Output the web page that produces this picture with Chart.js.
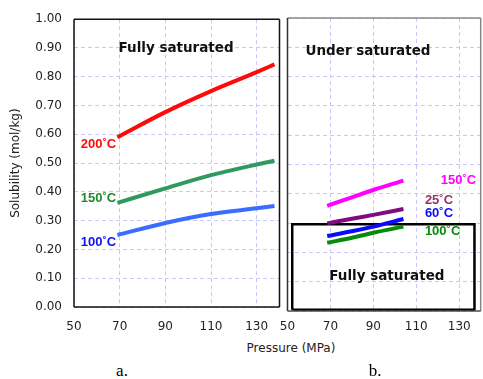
<!DOCTYPE html>
<html>
<head>
<meta charset="utf-8">
<script src="https://cdn.jsdelivr.net/npm/chart.js@4/dist/chart.umd.min.js"></script>
<style>
  body { margin: 0; background: #fff; width: 483px; height: 379px; position: relative; overflow: hidden; }
  canvas { position: absolute; top: 0; }
  #chartA { left: 0; }
  #chartB { left: 270px; }
  .txt { position: absolute; white-space: nowrap; transform: translate(-50%, -50%); }
  #xTitle { left: 291px; top: 348px; font: 12px "DejaVu Sans"; color: #222; }
  .cap { top: 371px; font: 17px "Liberation Serif"; color: #000; }
</style>
</head>
<body>
<canvas id="chartA" width="285" height="340"></canvas>
<canvas id="chartB" width="213" height="340"></canvas>
<div id="xTitle" class="txt">Pressure (MPa)</div>
<div class="txt cap" style="left:122px">a.</div>
<div class="txt cap" style="left:375px">b.</div>
<script>
// axes, shared by both panels
const xTicks = [50, 70, 90, 110, 130];
const xMin = 50, xMax = 140;
const yMin = 0, yMax = 1;

// a. fully saturated, pressure (MPa) vs solubility (mol/kg)
const pressureA = [69, 90, 110, 130, 137.8];
const sol200A = [0.59, 0.677, 0.75, 0.816, 0.843];
const sol150A = [0.362, 0.412, 0.458, 0.495, 0.508];
const sol100A = [0.25, 0.292, 0.323, 0.343, 0.351];

// b. under saturated
const pressureB = [68.5, 80, 90, 104];
const sol150B = [0.359, 0.388, 0.413, 0.445];
const sol25B = [0.299, 0.315, 0.328, 0.348];
const sol60B = [0.256, 0.272, 0.288, 0.314];
const sol100B = [0.233, 0.25, 0.267, 0.288];

// fully saturated region drawn in panel b
const boxX = [52.2, 52.2, 137.1, 137.1, 52.2];
const boxY = [0.004, 0.296, 0.296, 0.004, 0.004];

const tempLabelsA = ['200˚C', '150˚C', '100˚C'];
const tempLabelsB = ['150˚C', '25˚C', '60˚C', '100˚C'];

const gridColor = '#c8c8f8';
const tickColor = '#222';
const tickFont = { family: 'DejaVu Sans', size: 12 };
const tempFont = 'bold 13px "Liberation Sans"';
const noteFont = 'bold 13.5px "DejaVu Sans"';

function series(xs, ys, color, width) {
    return {
        data: xs.map((x, i) => ({ x: x, y: ys[i] })),
        showLine: true,
        borderColor: color,
        borderWidth: width,
        pointRadius: 0,
        cubicInterpolationMode: 'monotone',
        fill: false
    };
}

// frame round the plot area + text placed in data units
const decoPlugin = {
    id: 'deco',
    afterDatasetsDraw(chart, args, opts) {
        const ctx = chart.ctx;
        const a = chart.chartArea;
        const sx = chart.scales.x, sy = chart.scales.y;
        ctx.save();
        ctx.lineWidth = opts.frameWidth;
        const sides = [
            [opts.frame[0], a.left, a.top, a.right, a.top],
            [opts.frame[1], a.right, a.top, a.right, a.bottom],
            [opts.frame[2], a.left, a.bottom, a.right, a.bottom],
            [opts.frame[3], a.left, a.top, a.left, a.bottom]
        ];
        sides.forEach(s => {
            ctx.strokeStyle = s[0];
            ctx.beginPath();
            ctx.moveTo(s[1], s[2]);
            ctx.lineTo(s[3], s[4]);
            ctx.stroke();
        });
        ctx.textBaseline = 'middle';
        opts.tags.forEach(t => {
            ctx.font = t.font;
            ctx.fillStyle = t.color;
            ctx.textAlign = t.align;
            ctx.fillText(t.text, sx.getPixelForValue(t.x), sy.getPixelForValue(t.y));
        });
        ctx.restore();
    }
};

function makeChart(canvas, datasets, o) {
    return new Chart(canvas, {
        type: 'scatter',
        data: { datasets: datasets },
        options: {
            responsive: false,
            animation: false,
            layout: { padding: o.padding },
            plugins: {
                legend: { display: false },
                tooltip: { enabled: false },
                deco: o.deco
            },
            scales: {
                x: {
                    type: 'linear',
                    min: xMin,
                    max: xMax,
                    afterBuildTicks: s => { s.ticks = xTicks.map(v => ({ value: v })); },
                    afterFit: s => { s.height = o.xHeight; },
                    grid: { color: gridColor, drawTicks: false },
                    border: { display: false, dash: [4, 3] },
                    ticks: { padding: o.xPad, color: tickColor, font: tickFont, maxRotation: 0, autoSkip: false }
                },
                y: {
                    min: yMin,
                    max: yMax,
                    afterFit: s => { s.width = o.yWidth; },
                    grid: { color: gridColor, drawTicks: false },
                    border: { display: false, dash: [4, 3] },
                    ticks: {
                        display: o.yLabels,
                        stepSize: 0.1,
                        padding: 12,
                        color: tickColor,
                        font: tickFont,
                        callback: v => v.toFixed(2)
                    },
                    title: {
                        display: o.yLabels,
                        text: 'Solubility (mol/kg)',
                        color: tickColor,
                        font: tickFont,
                        padding: { top: 9, bottom: 0 }
                    }
                }
            }
        },
        plugins: [decoPlugin]
    });
}

const chartA = makeChart(document.getElementById('chartA'), [
    series(pressureA, sol200A, '#ff0a0a', 4),
    series(pressureA, sol150A, '#2f9a60', 4),
    series(pressureA, sol100A, '#3a6cff', 4)
], {
    padding: { top: 18.5, right: 5.5, left: 0, bottom: 0 },
    yWidth: 74, xHeight: 33, xPad: 13, yLabels: true,
    deco: {
        frameWidth: 1.5,
        frame: ['#111', '#111', '#111', '#111'],
        tags: [
            { text: 'Fully saturated', x: 94.7, y: 0.897, font: noteFont, color: '#111', align: 'center' },
            { text: tempLabelsA[0], x: 53, y: 0.566, font: tempFont, color: '#ff0a0a', align: 'left' },
            { text: tempLabelsA[1], x: 53, y: 0.377, font: tempFont, color: '#1f8a2a', align: 'left' },
            { text: tempLabelsA[2], x: 53, y: 0.226, font: tempFont, color: '#1010f0', align: 'left' }
        ]
    }
});

const box = series(boxX, boxY, '#000', 2.5);
box.cubicInterpolationMode = 'default';
box.tension = 0;

const chartB = makeChart(document.getElementById('chartB'), [
    series(pressureB, sol150B, '#ff00ff', 4),
    series(pressureB, sol25B, '#800a80', 4),
    series(pressureB, sol60B, '#0a0aff', 4),
    series(pressureB, sol100B, '#0a8a0a', 4),
    box
], {
    padding: { top: 18, right: 2.3, left: 0, bottom: 0 },
    yWidth: 17.5, xHeight: 29, xPad: 9, yLabels: false,
    deco: {
        frameWidth: 1.5,
        frame: ['#888', '#888', '#555', '#333'],
        tags: [
            { text: 'Under saturated', x: 87.5, y: 0.887, font: noteFont, color: '#111', align: 'center' },
            { text: 'Fully saturated', x: 96.3, y: 0.117, font: noteFont, color: '#111', align: 'center' },
            { text: tempLabelsB[0], x: 121.4, y: 0.445, font: tempFont, color: '#ff00ff', align: 'left' },
            { text: tempLabelsB[1], x: 114, y: 0.379, font: tempFont, color: '#993366', align: 'left' },
            { text: tempLabelsB[2], x: 114, y: 0.333, font: tempFont, color: '#0a0aff', align: 'left' },
            { text: tempLabelsB[3], x: 114, y: 0.271, font: tempFont, color: '#0a8a0a', align: 'left' }
        ]
    }
});
</script>
</body>
</html>
